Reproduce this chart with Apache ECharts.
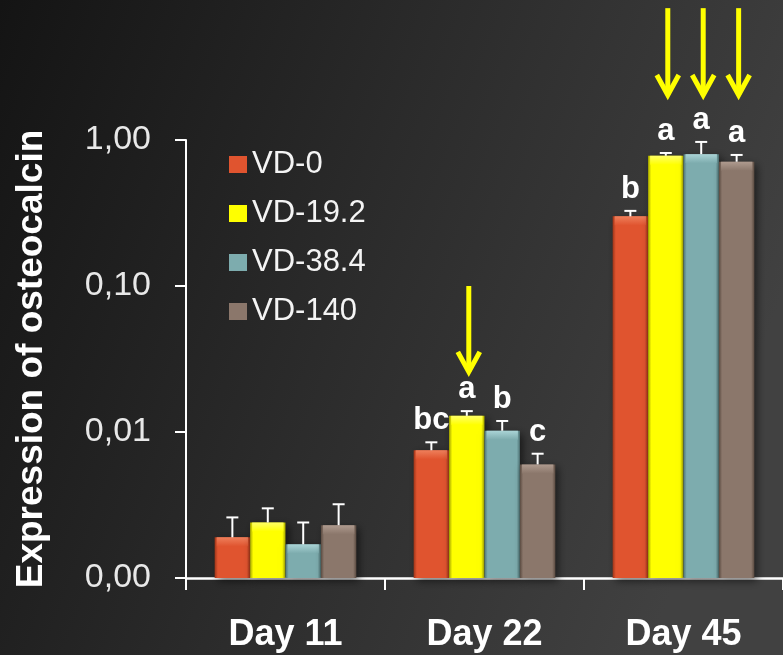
<!DOCTYPE html>
<html>
<head>
<meta charset="utf-8">
<script src="https://cdn.jsdelivr.net/npm/echarts@6/dist/echarts.min.js"></script>
<style>
  html, body { margin: 0; padding: 0; background: #222; }
  #chart { width: 783px; height: 655px; }
</style>
</head>
<body>
<div id="chart"></div>
<script>
// categories and groups
var days = ['Day 11', 'Day 22', 'Day 45'];
var groups = ['VD-0', 'VD-19.2', 'VD-38.4', 'VD-140'];

// mean expression per day
var vd0 = [0.0019, 0.0075, 0.30];
var vd19 = [0.0024, 0.0129, 0.78];
var vd38 = [0.0017, 0.0102, 0.80];
var vd140 = [0.0023, 0.0060, 0.71];

// top of the error bars
var vd0Err = [0.0026, 0.0085, 0.327];
var vd19Err = [0.0030, 0.0139, 0.815];
var vd38Err = [0.0024, 0.0119, 0.97];
var vd140Err = [0.0032, 0.0071, 0.79];

// significance letters
var vd0Letters = ['', 'bc', 'b'];
var vd19Letters = ['', 'a', 'a'];
var vd38Letters = ['', 'b', 'a'];
var vd140Letters = ['', 'c', 'a'];

// yellow arrows: day index, group index, tail value, tip value
var arrowDay = [1, 2, 2, 2];
var arrowGroup = [1, 1, 2, 3];
var arrowFrom = [0.10, 8.0, 8.0, 8.0];
var arrowTo = [0.025, 1.97, 1.97, 1.97];

var yMin = 0.001, yMax = 1;

var colors = ['#E0542F', '#FFFF00', '#7DACAE', '#8B776B'];
var darks = ['#9E3518', '#A5A500', '#4F7476', '#5A4A40'];
var lights = ['#F28A66', '#FFFF80', '#B6DEE0', '#B8A498'];

var allValues = [vd0, vd19, vd38, vd140];
var allErr = [vd0Err, vd19Err, vd38Err, vd140Err];
var allLetters = [vd0Letters, vd19Letters, vd38Letters, vd140Letters];

var chart = echarts.init(document.getElementById('chart'));

// bar + error bar + letter, drawn through the axes
function makeBarRender(idx) {
    return function (params, api) {
        var cat = api.value(0);
        var val = api.value(1);
        var err = api.value(2);
        var catW = api.size([1, 0])[0];
        var barW = catW * 0.178;
        var topPt = api.coord([cat, val]);
        var x = topPt[0] - barW * 2 + idx * barW;
        var top = topPt[1];
        var base = api.coord([cat, yMin])[1];
        var errY = api.coord([cat, err])[1];
        var cx = x + barW / 2;
        var letter = allLetters[idx][params.dataIndex];

        var children = [{
            type: 'rect',
            shape: { x: x, y: top, width: barW, height: base - top },
            style: {
                fill: new echarts.graphic.LinearGradient(0, 0, 1, 0, [
                    { offset: 0, color: darks[idx] },
                    { offset: 0.09, color: colors[idx] },
                    { offset: 0.91, color: colors[idx] },
                    { offset: 1, color: darks[idx] }
                ]),
                shadowBlur: 8,
                shadowOffsetX: 3,
                shadowOffsetY: 3,
                shadowColor: 'rgba(0,0,0,0.55)'
            }
        }, {
            type: 'rect',
            shape: { x: x + 2, y: top, width: barW - 4, height: Math.min(9, base - top) },
            style: {
                fill: new echarts.graphic.LinearGradient(0, 0, 0, 1, [
                    { offset: 0, color: lights[idx] },
                    { offset: 1, color: colors[idx] }
                ]),
                opacity: 0.8
            }
        }, {
            type: 'line',
            shape: { x1: cx, y1: top, x2: cx, y2: errY },
            style: { stroke: '#fff', lineWidth: 2 }
        }, {
            type: 'line',
            shape: { x1: cx - 6, y1: errY, x2: cx + 6, y2: errY },
            style: { stroke: '#fff', lineWidth: 2 }
        }];
        if (letter) {
            children.push({
                type: 'text',
                style: {
                    text: letter,
                    x: cx,
                    y: errY - 6,
                    align: 'center',
                    verticalAlign: 'bottom',
                    fill: '#fff',
                    font: 'bold 31px "Liberation Sans", Arial, sans-serif'
                }
            });
        }
        return { type: 'group', children: children };
    };
}

function renderArrow(params, api) {
    var cat = api.value(0);
    var g = api.value(1);
    var catW = api.size([1, 0])[0];
    var barW = catW * 0.178;
    var tail = api.coord([cat, api.value(2)]);
    var tip = api.coord([cat, api.value(3)]);
    var x = tail[0] - barW * 2 + g * barW + barW / 2 + 2;
    return {
        type: 'group',
        children: [{
            type: 'line',
            shape: { x1: x, y1: tail[1], x2: x, y2: tip[1] - 2 },
            style: { stroke: '#FFFF00', lineWidth: 5 }
        }, {
            type: 'polyline',
            shape: { points: [[x - 11, tip[1] - 22], [x, tip[1] - 2], [x + 11, tip[1] - 22]] },
            style: { stroke: '#FFFF00', lineWidth: 5, fill: null, lineJoin: 'miter' }
        }]
    };
}

var series = groups.map(function (name, i) {
    return {
        name: name,
        type: 'custom',
        renderItem: makeBarRender(i),
        itemStyle: { color: colors[i] },
        encode: { x: 0, y: 1 },
        clip: false,
        data: days.map(function (d, k) {
            return [k, allValues[i][k], allErr[i][k]];
        })
    };
});

series.push({
    name: 'arrows',
    type: 'custom',
    renderItem: renderArrow,
    encode: { x: 0, y: 2 },
    clip: false,
    silent: true,
    z: 10,
    data: arrowDay.map(function (d, k) {
        return [d, arrowGroup[k], arrowFrom[k], arrowTo[k]];
    })
});

var option = {
    animation: false,
    backgroundColor: new echarts.graphic.LinearGradient(0, 0, 1, 0.45, [
        { offset: 0, color: '#141414' },
        { offset: 0.5, color: '#2b2b2b' },
        { offset: 1, color: '#414141' }
    ]),
    color: colors,
    legend: {
        data: groups,
        orient: 'vertical',
        left: 229,
        top: 149,
        padding: 0,
        itemGap: 18,
        itemWidth: 18,
        itemHeight: 17,
        itemTextGap: 6,
        icon: 'rect',
        textStyle: {
            color: '#f4f4f4',
            fontSize: 31,
            lineHeight: 31,
            fontFamily: 'Liberation Sans'
        }
    },
    grid: {
        left: 186,
        right: -3,
        top: 140,
        bottom: 77
    },
    xAxis: {
        type: 'category',
        data: days,
        axisLine: { lineStyle: { color: '#fff', width: 2.5 } },
        axisTick: { show: true, length: 12, lineStyle: { color: '#fff', width: 2 } },
        axisLabel: {
            color: '#fff',
            fontSize: 36,
            fontWeight: 'bold',
            fontFamily: 'Liberation Sans',
            margin: 39
        },
        splitLine: { show: false }
    },
    yAxis: {
        type: 'log',
        logBase: 10,
        min: yMin,
        max: yMax,
        name: 'Expression of osteocalcin',
        nameLocation: 'middle',
        nameGap: 136,
        nameTextStyle: {
            color: '#fff',
            fontSize: 37,
            fontWeight: 'bold',
            fontFamily: 'Liberation Sans'
        },
        axisLine: { show: true, lineStyle: { color: '#fff', width: 2 } },
        axisTick: { show: true, length: 11, lineStyle: { color: '#fff', width: 2 } },
        axisLabel: {
            color: '#e8e8e8',
            fontSize: 34,
            fontFamily: 'Liberation Sans',
            margin: 35,
            formatter: function (v) {
                return v.toFixed(2).replace('.', ',');
            }
        },
        splitLine: { show: false }
    },
    series: series
};

chart.setOption(option);
</script>
</body>
</html>
